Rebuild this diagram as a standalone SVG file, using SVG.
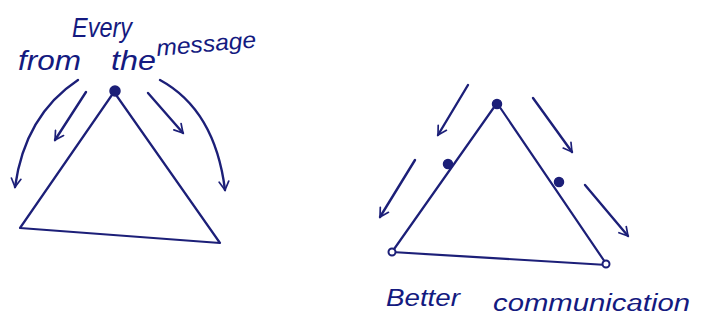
<svg xmlns="http://www.w3.org/2000/svg" width="709" height="331" viewBox="0 0 709 331">
<style>
.ln{fill:none;stroke:#1c1f78;stroke-width:2.2;stroke-linecap:round;stroke-linejoin:round}
.ar{fill:none;stroke:#1c1f78;stroke-width:2.4;stroke-linecap:round;marker-end:url(#ah)}
.dot{fill:#1c1f78;stroke:#1c1f78;stroke-width:1.5}
.open{fill:#ffffff;stroke:#1c1f78;stroke-width:2}
.t{font-family:"Liberation Sans",Arial,sans-serif;font-style:italic;font-size:23px;fill:#141a80}
.big{font-size:27px}
</style>
<defs>
<marker id="ah" viewBox="0 0 10 10" refX="8" refY="5" markerWidth="12" markerHeight="12" orient="auto" markerUnits="userSpaceOnUse">
<path d="M1,1 L8,5 L1,9" fill="none" stroke="#1c1f78" stroke-width="1.4" stroke-linecap="round"/>
</marker>
</defs>
<rect width="709" height="331" fill="#ffffff"/>
<g id="left-triangle">
<path class="ln" d="M114,92 L20,228 L220,243 Z"/>
<circle class="dot" cx="115" cy="91" r="5"/>
</g>
<g id="left-label">
<text class="t big" x="72" y="37" textLength="60" lengthAdjust="spacingAndGlyphs">Every</text>
<text class="t" x="157" y="56" transform="rotate(-5 157 56)" textLength="100" lengthAdjust="spacingAndGlyphs">message</text>
<text class="t big" x="18" y="70" textLength="63" lengthAdjust="spacingAndGlyphs">from</text>
<text class="t big" x="111" y="70" textLength="45" lengthAdjust="spacingAndGlyphs">the</text>
</g>
<g id="right-triangle">
<path class="ln" d="M497,103 L392,252 L607,265 Z"/>
<circle class="dot" cx="497" cy="104" r="4.5"/>
<circle class="dot" cx="448" cy="164" r="4.5"/>
<circle class="dot" cx="559" cy="182" r="4.5"/>
<circle class="open" cx="392" cy="252" r="3.5"/>
<circle class="open" cx="606" cy="264" r="3.5"/>
</g>
<g id="right-label">
<text class="t" x="386" y="306" textLength="74" lengthAdjust="spacingAndGlyphs">Better</text>
<text class="t" x="493" y="311" textLength="197" lengthAdjust="spacingAndGlyphs">communication</text>
</g>
<g id="connectors">
<path class="ar" d="M78,80 Q25,115 15,187"/>
<path class="ar" d="M86,92 L55,140"/>
<path class="ar" d="M148,93 L183,133"/>
<path class="ar" d="M160,80 Q215,110 225,190"/>
<path class="ar" d="M468,85 L438,135"/>
<path class="ar" d="M415,160 L380,217"/>
<path class="ar" d="M533,98 L572,152"/>
<path class="ar" d="M585,185 L628,236"/>
</g>
</svg>
